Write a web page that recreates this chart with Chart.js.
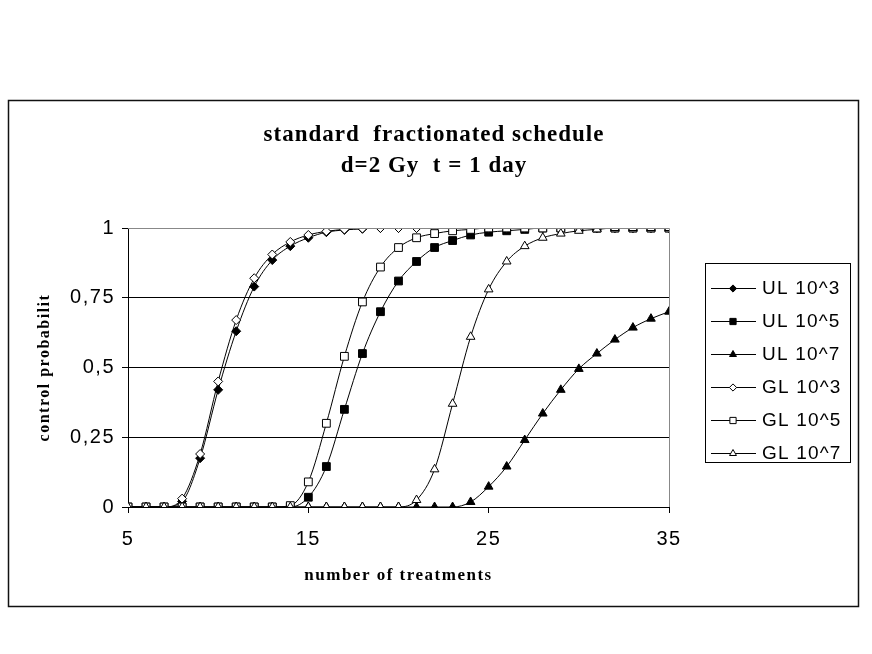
<!DOCTYPE html>
<html>
<head>
<meta charset="utf-8">
<script src="https://cdn.jsdelivr.net/npm/chart.js@4"></script>
<style>
  html, body { margin: 0; padding: 0; background: #fff; }
  #wrap { width: 872px; height: 654px; }
</style>
</head>
<body>
<div id="wrap"><canvas id="chart" width="872" height="654"></canvas></div>
<script>
// number of treatments 5..35
const treatments = [5, 6, 7, 8, 9, 10, 11, 12, 13, 14, 15, 16, 17, 18, 19, 20,
                    21, 22, 23, 24, 25, 26, 27, 28, 29, 30, 31, 32, 33, 34, 35];

const ul3 = [0, 0, 0, 0.02, 0.175, 0.42, 0.63, 0.79, 0.885, 0.935, 0.965, 0.985, 0.993, 0.997, 1, 1,
             1, 1, 1, 1, 1, 1, 1, 1, 1, 1, 1, 1, 1, 1, 1];
const ul5 = [0, 0, 0, 0, 0, 0, 0, 0, 0, 0, 0.035, 0.145, 0.35, 0.55, 0.70, 0.81,
             0.88, 0.93, 0.955, 0.975, 0.985, 0.99, 0.995, 1, 1, 1, 1, 1, 1, 1, 1];
const ul7 = [0, 0, 0, 0, 0, 0, 0, 0, 0, 0, 0, 0, 0, 0, 0, 0,
             0, 0, 0, 0.018, 0.073, 0.145, 0.24, 0.335, 0.42, 0.495, 0.55, 0.60, 0.643, 0.675, 0.70];
const gl3 = [0, 0, 0, 0.03, 0.19, 0.45, 0.67, 0.82, 0.905, 0.95, 0.975, 0.988, 0.995, 0.998, 1, 1,
             1, 1, 1, 1, 1, 1, 1, 1, 1, 1, 1, 1, 1, 1, 1];
const gl5 = [0, 0, 0, 0, 0, 0, 0, 0, 0, 0.005, 0.09, 0.30, 0.54, 0.735, 0.86, 0.93,
             0.965, 0.98, 0.99, 0.995, 1, 1, 1, 1, 1, 1, 1, 1, 1, 1, 1];
const gl7 = [0, 0, 0, 0, 0, 0, 0, 0, 0, 0, 0, 0, 0, 0, 0, 0,
             0.025, 0.135, 0.37, 0.61, 0.78, 0.88, 0.935, 0.965, 0.98, 0.99, 0.995, 1, 1, 1, 1];

const seriesNames = ['UL 10^3', 'UL 10^5', 'UL 10^7', 'GL 10^3', 'GL 10^5', 'GL 10^7'];
const yTickLabels = { 0: '0', 0.25: '0,25', 0.5: '0,5', 0.75: '0,75', 1: '1' };
const titleLines = ['standard  fractionated schedule', 'd=2 Gy  t = 1 day'];

const seriesValues = [ul3, ul5, ul7, gl3, gl5, gl7];
const styles = [
  { pointStyle: 'rectRot', fill: '#000', r: 4.5 },
  { pointStyle: 'rect', fill: '#000', r: 5.5 },
  { pointStyle: 'triangle', fill: '#000', r: 5 },
  { pointStyle: 'rectRot', fill: '#fff', r: 4.5 },
  { pointStyle: 'rect', fill: '#fff', r: 5.5 },
  { pointStyle: 'triangle', fill: '#fff', r: 5 }
];

const datasets = seriesValues.map((vals, i) => ({
  label: seriesNames[i],
  data: treatments.map((t, j) => ({ x: t, y: vals[j] })),
  borderColor: '#000',
  borderWidth: 1,
  cubicInterpolationMode: 'monotone',
  pointStyle: styles[i].pointStyle,
  pointRadius: styles[i].r,
  pointBackgroundColor: styles[i].fill,
  pointBorderColor: '#000',
  pointBorderWidth: 1,
  order: 6 - i
}));

const frame = {
  id: 'frame',
  beforeDraw(chart) {
    const ctx = chart.ctx;
    ctx.save();
    ctx.fillStyle = '#fff';
    ctx.fillRect(0, 0, chart.width, chart.height);
    ctx.strokeStyle = '#111';
    ctx.lineWidth = 1.5;
    ctx.strokeRect(8.5, 100.5, 850, 506);
    ctx.restore();
    // the old picture's text is widely spaced
    ctx.letterSpacing = '1.5px';
  },
  afterDatasetsDraw(chart) {
    const ctx = chart.ctx;
    const a = chart.chartArea;
    ctx.save();
    ctx.strokeStyle = '#888';
    ctx.lineWidth = 1;
    ctx.beginPath();
    ctx.moveTo(a.left, a.top + 0.5);
    ctx.lineTo(a.right + 0.5, a.top + 0.5);
    ctx.lineTo(a.right + 0.5, a.bottom);
    ctx.stroke();
    ctx.restore();
  },
  afterDraw(chart) {
    const ctx = chart.ctx;
    ctx.save();
    // title
    ctx.fillStyle = '#000';
    ctx.textAlign = 'center';
    ctx.textBaseline = 'middle';
    ctx.letterSpacing = '1px';
    ctx.font = 'bold 23px "Liberation Serif"';
    ctx.fillText(titleLines[0], 434, 135);
    ctx.fillText(titleLines[1], 434, 166);
    // legend
    ctx.strokeStyle = '#000';
    ctx.lineWidth = 1;
    ctx.strokeRect(705.5, 263.5, 145, 199);
    ctx.font = '19px "Liberation Sans"';
    ctx.letterSpacing = '1.2px';
    ctx.textAlign = 'left';
    chart.data.datasets.forEach((ds, i) => {
      const y = 288 + i * 33;
      ctx.beginPath();
      ctx.moveTo(711, y + 0.5);
      ctx.lineTo(756, y + 0.5);
      ctx.strokeStyle = '#000';
      ctx.stroke();
      ctx.fillStyle = ds.pointBackgroundColor;
      ctx.strokeStyle = '#000';
      Chart.helpers.drawPoint(ctx, { pointStyle: ds.pointStyle, radius: ds.pointRadius * 0.8, borderWidth: 1 }, 733, y + 0.5);
      ctx.fillStyle = '#000';
      ctx.fillText(ds.label, 762, y + 1);
    });
    ctx.restore();
  }
};

new Chart(document.getElementById('chart'), {
  type: 'line',
  data: { datasets },
  plugins: [frame],
  options: {
    responsive: false,
    animation: false,
    layout: { padding: { left: 0, right: 203, top: 228, bottom: 57 } },
    plugins: { legend: { display: false }, tooltip: { enabled: false }, title: { display: false } },
    scales: {
      x: {
        type: 'linear',
        min: 5,
        max: 35,
        afterFit(scale) { scale.height = 90; },
        afterBuildTicks(scale) { scale.ticks = [5, 15, 25, 35].map(v => ({ value: v })); },
        border: { color: '#000', width: 1 },
        grid: { drawOnChartArea: false, color: '#000', tickLength: 6 },
        ticks: { color: '#000', font: { family: 'Liberation Sans', size: 20 }, padding: 14, maxRotation: 0 },
        title: {
          display: true,
          text: 'number of treatments',
          color: '#000',
          font: { family: 'Liberation Serif', size: 17, weight: 'bold' },
          padding: { top: 0, bottom: 11 }
        }
      },
      y: {
        min: 0,
        max: 1,
        afterFit(scale) { scale.width = 128; },
        afterBuildTicks(scale) { scale.ticks = Object.keys(yTickLabels).map(v => ({ value: +v })); },
        border: { color: '#000', width: 1 },
        grid: { color: '#000', lineWidth: 1, tickLength: 6 },
        ticks: {
          color: '#000',
          font: { family: 'Liberation Sans', size: 20 },
          padding: 7,
          callback: v => yTickLabels[v]
        },
        title: {
          display: true,
          text: 'control probabilit',
          color: '#000',
          font: { family: 'Liberation Serif', size: 16, weight: 'bold' },
          padding: { top: 35, bottom: 0 }
        }
      }
    }
  }
});
</script>
</body>
</html>
